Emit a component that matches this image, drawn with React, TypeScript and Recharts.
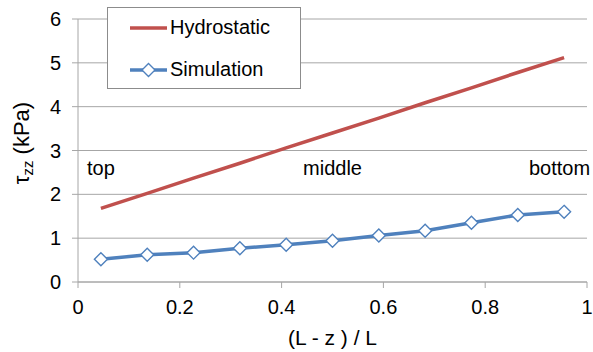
import { LineChart, Line, XAxis, YAxis, CartesianGrid, Legend, ReferenceDot, Label } from 'recharts';

// position along the column, (L - z) / L
const positions = [0.045, 0.136, 0.227, 0.318, 0.409, 0.5, 0.591, 0.682, 0.773, 0.864, 0.955];
// tau_zz in kPa
const hydrostatic = [1.68, 2.02, 2.37, 2.71, 3.06, 3.4, 3.74, 4.09, 4.43, 4.78, 5.12];
const simulation = [0.52, 0.62, 0.67, 0.77, 0.85, 0.94, 1.06, 1.17, 1.35, 1.53, 1.6];

const xTicks = [0, 0.2, 0.4, 0.6, 0.8, 1];
const yTicks = [0, 1, 2, 3, 4, 5, 6];

const regionLabels = [
  { text: 'top', x: 0.045, y: 2.44 },
  { text: 'middle', x: 0.5, y: 2.44 },
  { text: 'bottom', x: 0.946, y: 2.44 },
];

const RED = '#C0504D';
const BLUE = '#4F81BD';
const GRID = '#A6A6A6';
const FONT = '"Liberation Sans", Arial, sans-serif';
const FS = 20;

const data = positions.map((x, i) => ({
  x,
  hydrostatic: hydrostatic[i],
  simulation: simulation[i],
}));

const Diamond = (props: any) => {
  const { cx, cy } = props;
  if (cx == null || cy == null) return null;
  const r = 6.5;
  return (
    <path
      d={`M${cx},${cy - r} L${cx + r},${cy} L${cx},${cy + r} L${cx - r},${cy} Z`}
      fill="#fff"
      stroke={BLUE}
      strokeWidth={1.4}
    />
  );
};

const LegendBox = () => (
  <div
    style={{
      width: 192,
      height: 80,
      border: '1px solid #8c8c8c',
      background: '#fff',
      fontFamily: FONT,
      fontSize: FS,
      position: 'relative',
    }}
  >
    <svg width={60} height={80} style={{ position: 'absolute', left: 0, top: 0 }}>
      <line x1={22} x2={59} y1={20} y2={20} stroke={RED} strokeWidth={3.5} />
      <line x1={22} x2={59} y1={62} y2={62} stroke={BLUE} strokeWidth={3.5} />
      <path d="M40.5,55.5 L47,62 L40.5,68.5 L34,62 Z" fill="#fff" stroke={BLUE} strokeWidth={1.4} />
    </svg>
    <div style={{ position: 'absolute', left: 62, top: 8 }}>Hydrostatic</div>
    <div style={{ position: 'absolute', left: 62, top: 50 }}>Simulation</div>
  </div>
);

const YLabel = () => (
  <text
    x={29}
    y={143}
    transform="rotate(-90 29 143)"
    textAnchor="middle"
    fontSize={22}
    fontFamily={FONT}
    fill="#000"
  >
    τ
    <tspan fontSize={15} dy={4}>
      zz
    </tspan>
    <tspan dy={-4}> (kPa)</tspan>
  </text>
);

export default function App() {
  return (
    <div style={{ position: 'absolute', left: 0, top: 0, background: '#fff' }}>
      <LineChart
        width={593}
        height={352}
        data={data}
        margin={{ top: 19, right: 6, left: 0, bottom: 0 }}
        style={{ fontFamily: FONT }}
      >
        <CartesianGrid vertical={false} stroke={GRID} strokeWidth={1} />
        <XAxis
          dataKey="x"
          type="number"
          domain={[0, 1]}
          ticks={xTicks}
          tickFormatter={(v) => String(v)}
          stroke={GRID}
          tick={{ fill: '#000', fontSize: FS }}
          tickSize={6}
          tickMargin={12}
          height={70}
        >
          <Label
            value="(L - z ) / L"
            position="insideBottom"
            offset={7}
            style={{ fontSize: FS + 1, fill: '#000' }}
          />
        </XAxis>
        <YAxis
          type="number"
          domain={[0, 6]}
          ticks={yTicks}
          stroke={GRID}
          tick={{ fill: '#000', fontSize: FS }}
          tickSize={6}
          tickMargin={11}
          width={78}
          label={<YLabel />}
        />
        <Legend
          layout="horizontal"
          verticalAlign="middle"
          align="center"
          wrapperStyle={{ left: 107, top: 7, width: 'auto' }}
          content={() => <LegendBox />}
        />
        <Line
          dataKey="hydrostatic"
          name="Hydrostatic"
          stroke={RED}
          strokeWidth={3.5}
          dot={false}
          activeDot={false}
          isAnimationActive={false}
        />
        <Line
          dataKey="simulation"
          name="Simulation"
          stroke={BLUE}
          strokeWidth={3.5}
          dot={<Diamond />}
          activeDot={false}
          isAnimationActive={false}
        />
        {regionLabels.map((r) => (
          <ReferenceDot
            key={r.text}
            x={r.x}
            y={r.y}
            r={0}
            shape={(p: any) => (
              <text x={p.cx} y={p.cy} textAnchor="middle" fontSize={FS} fontFamily={FONT} fill="#000">
                {r.text}
              </text>
            )}
          />
        ))}
      </LineChart>
    </div>
  );
}
